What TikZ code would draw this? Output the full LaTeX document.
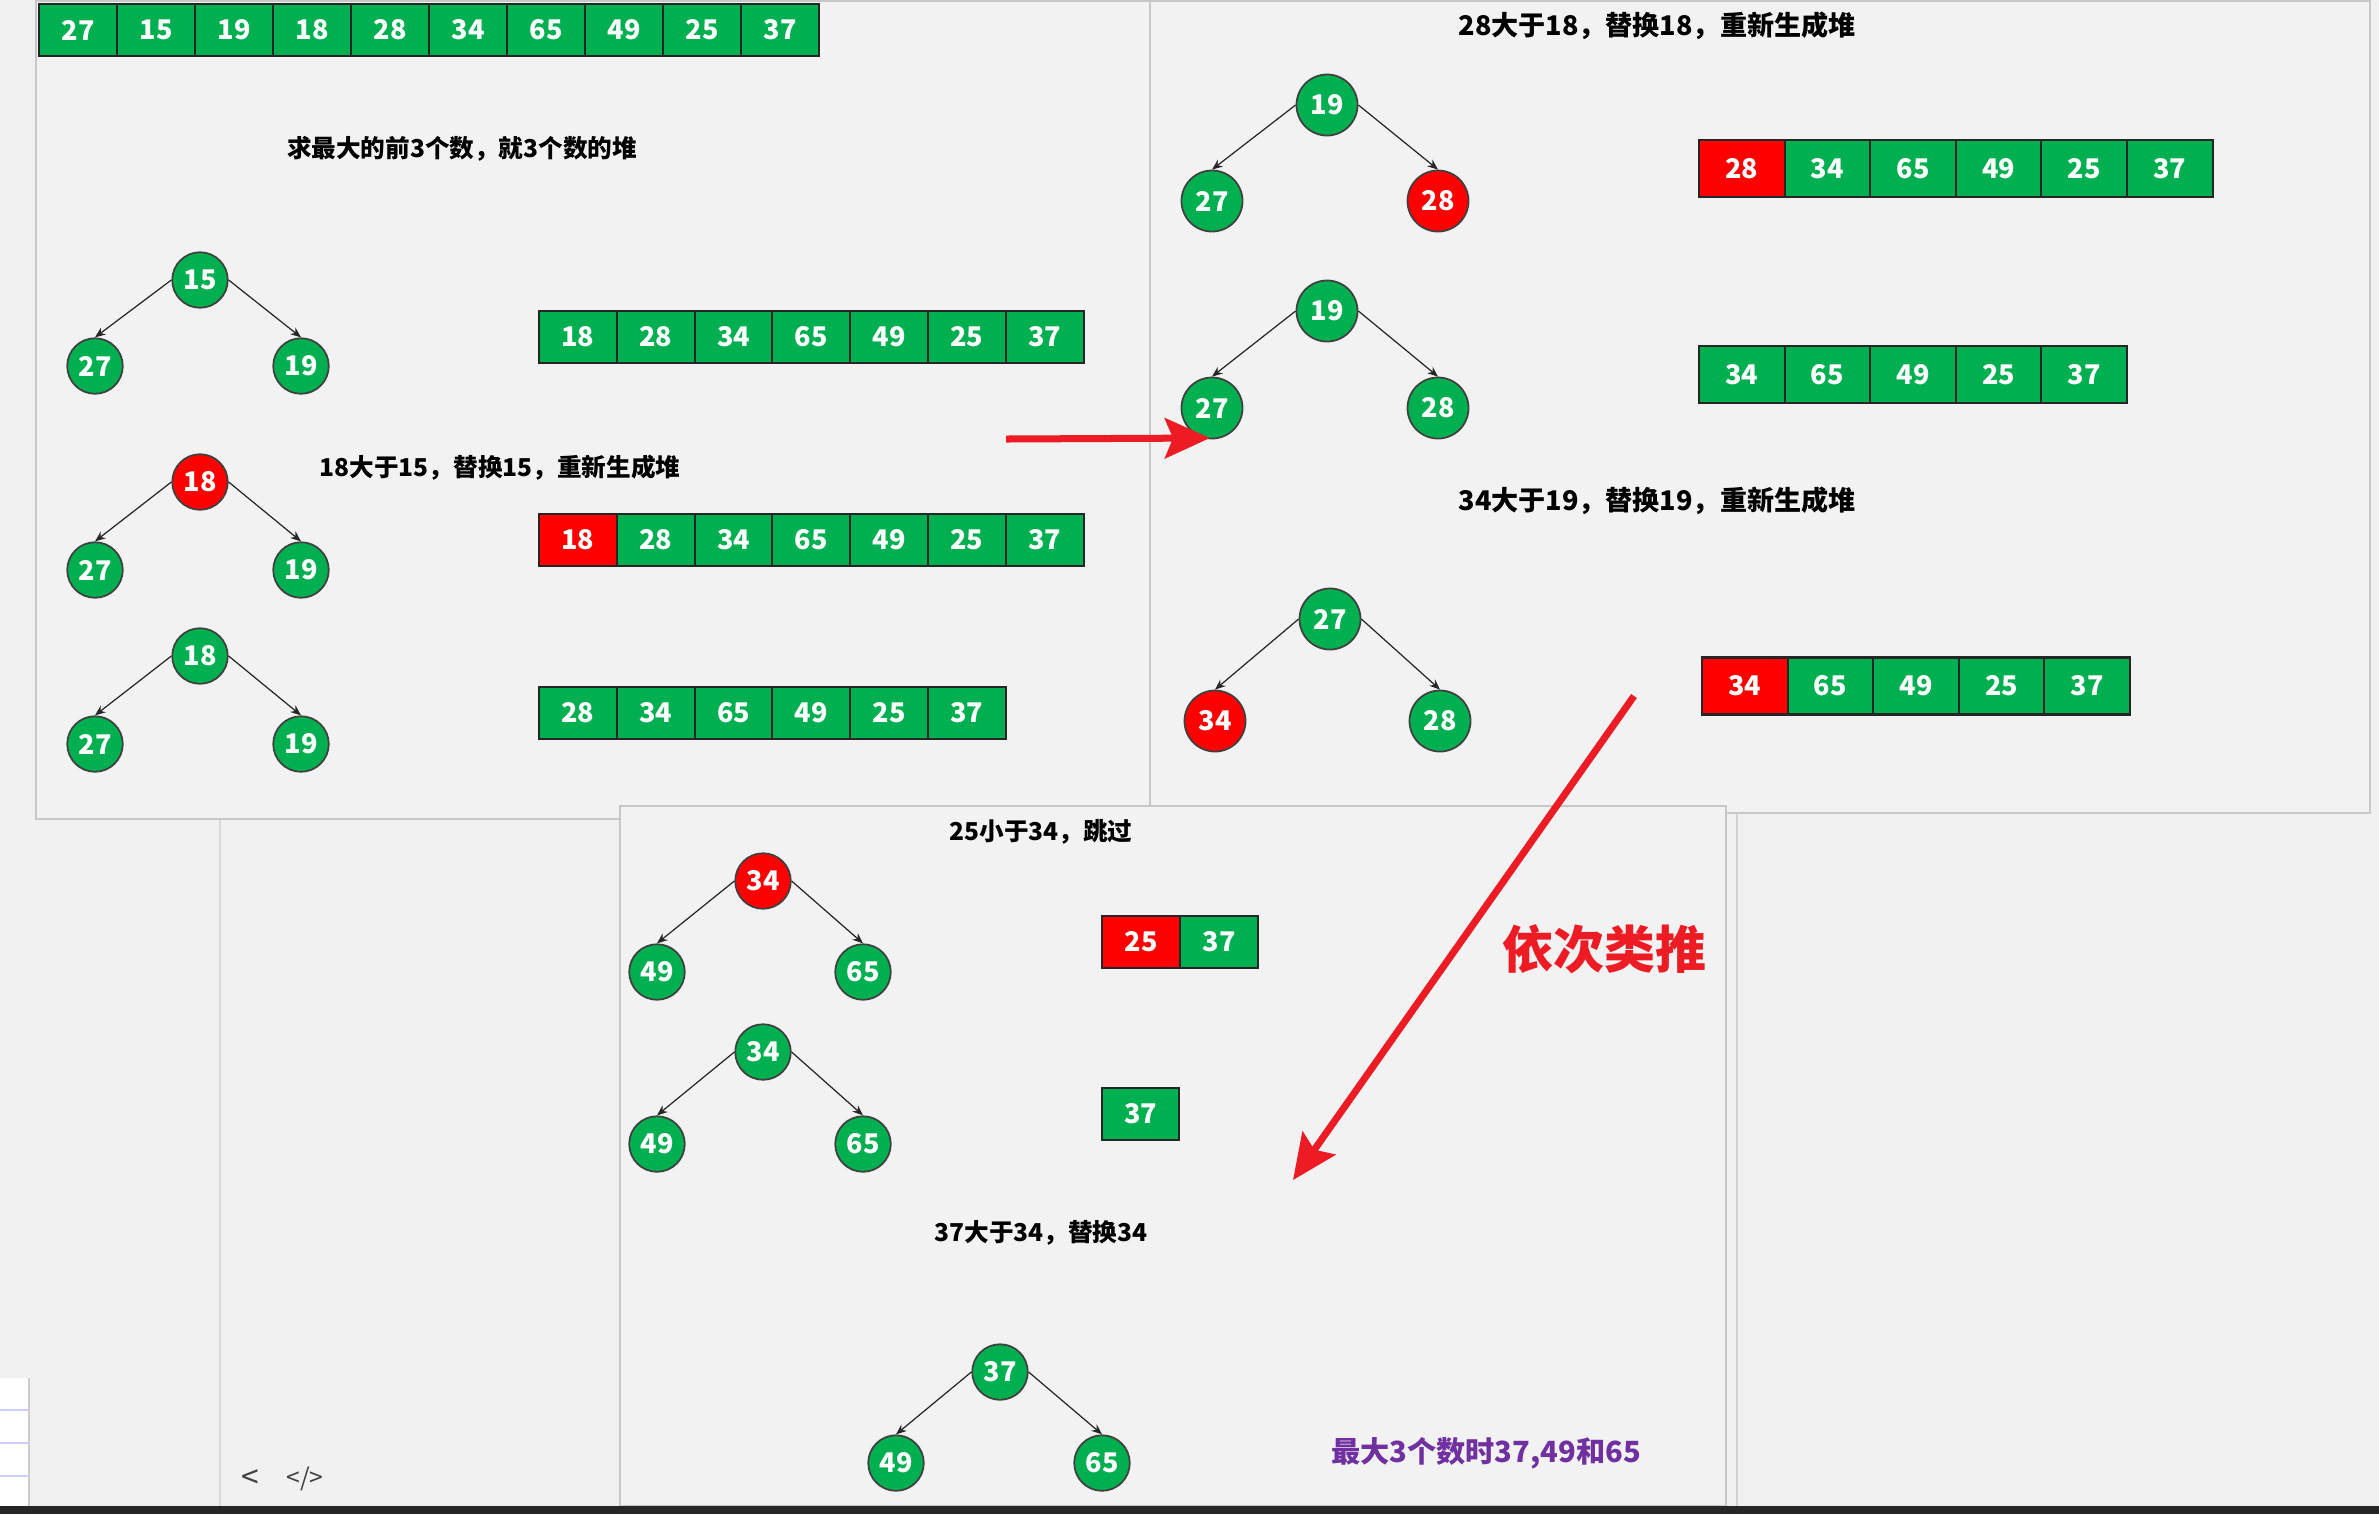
\documentclass[tikz,border=0pt]{standalone}
\usepackage{fontspec}
\setmainfont{Noto Sans CJK SC}
\usetikzlibrary{positioning, arrows.meta}

\definecolor{heapgreen}{HTML}{00B050}
\definecolor{heapred}{HTML}{FF0000}
\definecolor{arrowred}{HTML}{ED1C24}
\definecolor{resultpurple}{HTML}{7030A0}
\definecolor{panelgray}{HTML}{F2F2F2}
\definecolor{screengray}{HTML}{F0F0F0}

\begin{document}
\begin{tikzpicture}[
    x=0.01cm,
    y=-0.01cm,
    cell/.style={
        draw=black!85,
        line width=0.6pt,
        fill=heapgreen,
        text=white,
        minimum width=0.778cm,
        minimum height=0.52cm,
        inner sep=0pt,
        font=\fontsize{7.7}{9}\selectfont\bfseries
    },
    redcell/.style={
        cell,
        fill=heapred
    },
    widecell/.style={
        cell,
        minimum width=0.856cm,
        minimum height=0.57cm
    },
    wideredcell/.style={
        widecell,
        fill=heapred
    },
    vert/.style={
        circle,
        draw=black!75,
        line width=0.5pt,
        fill=heapgreen,
        text=white,
        minimum size=0.555cm,
        inner sep=0pt,
        font=\fontsize{7.7}{9}\selectfont\bfseries
    },
    redvert/.style={
        vert,
        fill=heapred
    },
    bigvert/.style={
        vert,
        minimum size=0.61cm
    },
    bigredvert/.style={
        bigvert,
        fill=heapred
    },
    edge/.style={
        -{Stealth[length=3pt, width=2.4pt]},
        line width=0.35pt,
        black!85
    },
    note/.style={
        font=\fontsize{7}{9}\selectfont\bfseries,
        inner sep=0pt
    },
    bignote/.style={
        font=\fontsize{7.7}{9}\selectfont\bfseries,
        inner sep=0pt
    },
    bigarrow/.style={
        -{Stealth[length=0.45cm, width=0.4cm, inset=0.08cm]},
        line width=0.07cm,
        arrowred
    },
    panel/.style={
        fill=panelgray,
        draw=black!22,
        line width=0.5pt
    }
]

% screen and panels
\useasboundingbox (0,0) rectangle (2379,1514);
\fill[screengray] (0,0) rectangle (2379,1514);
\draw[black!15, line width=0.5pt] (220,819) -- (220,1506);
\fill[white] (0,1378) rectangle (29,1506);
\draw[black!20] (29,1378) -- (29,1506);
\foreach \yy in {1410,1443,1476}
    \draw[blue!20] (0,\yy) -- (29,\yy);
\node[text=black!75, font=\fontsize{9}{10}\selectfont] (back) at (250,1479) {<};
\node[text=black!75, font=\fontsize{7}{10}\selectfont] (code) at (305,1479) {</>};
\draw[panel] (36,1) rectangle (1150,819);
\draw[panel] (1150,1) rectangle (2370,813);
\draw[panel] (620,806) rectangle (1726,1506);
\draw[black!18, line width=0.8pt] (1737,813) -- (1737,1506);
\fill[black!85] (0,1506) rectangle (2379,1514);

% input array
\foreach \v [count=\i] in {27,15,19,18,28,34,65,49,25,37}
    \node[cell] (in\i) at ({78*\i},30) {\v};

\node[note] (goal) at (462,149) {求最大的前3个数，就3个数的堆};

% first heap
\node[vert] (t1) at (200,280) {15};
\node[vert] (t1-l) at (95,366) {27};
\node[vert] (t1-r) at (301,366) {19};
\foreach \v/\s [count=\i] in {18/cell,28/cell,34/cell,65/cell,49/cell,25/cell,37/cell}
    \node[\s] (ra\i) at ({500.1+77.8*\i},337) {\v};

\node[note] (step1) at (500,468) {18大于15，替换15，重新生成堆};

\node[redvert] (t2) at (200,482) {18};
\node[vert] (t2-l) at (95,570) {27};
\node[vert] (t2-r) at (301,570) {19};
\foreach \v/\s [count=\i] in {18/redcell,28/cell,34/cell,65/cell,49/cell,25/cell,37/cell}
    \node[\s] (rb\i) at ({500.1+77.8*\i},540) {\v};

\node[vert] (t3) at (200,656) {18};
\node[vert] (t3-l) at (95,744) {27};
\node[vert] (t3-r) at (301,744) {19};
\foreach \v [count=\i] in {28,34,65,49,25,37}
    \node[cell] (rc\i) at ({500.1+77.8*\i},713) {\v};

% second panel
\node[bignote] (step2) at (1657,26) {28大于18，替换18，重新生成堆};

\node[bigvert] (t4) at (1327,105) {19};
\node[bigvert] (t4-l) at (1212,201) {27};
\node[bigredvert] (t4-r) at (1438,201) {28};
\foreach \v/\s [count=\i] in {28/wideredcell,34/widecell,65/widecell,49/widecell,25/widecell,37/widecell}
    \node[\s] (rd\i) at ({1656.2+85.6*\i},168.5) {\v};

\node[bigvert] (t5) at (1327,311) {19};
\node[bigvert] (t5-l) at (1212,408) {27};
\node[bigvert] (t5-r) at (1438,408) {28};
\foreach \v [count=\i] in {34,65,49,25,37}
    \node[widecell] (re\i) at ({1656.2+85.6*\i},374.5) {\v};

\node[bignote] (step3) at (1657,501) {34大于19，替换19，重新生成堆};

\node[bigvert] (t6) at (1330,619) {27};
\node[bigredvert] (t6-l) at (1215,721) {34};
\node[bigvert] (t6-r) at (1440,721) {28};
\foreach \v/\s [count=\i] in {34/wideredcell,65/widecell,49/widecell,25/widecell,37/widecell}
    \node[\s] (rf\i) at ({1659.2+85.6*\i},686) {\v};

% third panel
\node[note] (step4) at (1041,832) {25小于34，跳过};

\node[redvert] (t7) at (763,881) {34};
\node[vert] (t7-l) at (657,972) {49};
\node[vert] (t7-r) at (863,972) {65};
\node[redcell] (rg1) at (1141,942) {25};
\node[cell] (rg2) at (1219,942) {37};

\node[vert] (t8) at (763,1052) {34};
\node[vert] (t8-l) at (657,1144) {49};
\node[vert] (t8-r) at (863,1144) {65};
\node[cell] (rh1) at (1140.5,1114) {37};

\node[note] (step5) at (1041,1233) {37大于34，替换34};

\node[vert] (t9) at (1000,1372) {37};
\node[vert] (t9-l) at (896,1463) {49};
\node[vert] (t9-r) at (1102,1463) {65};

\node[text=resultpurple, font=\fontsize{8.3}{10}\selectfont\bfseries, inner sep=0pt] (result)
    at (1486,1453) {最大3个数时37,49和65};

\node[text=arrowred, font=\fontsize{14.5}{16}\selectfont\bfseries, inner sep=0pt] (etc)
    at (1604,949) {依次类推};

% heap edges
\foreach \t in {t1,t2,t3,t4,t5,t6,t7,t8,t9} {
    \draw[edge] (\t.west) -- (\t-l.north);
    \draw[edge] (\t.east) -- (\t-r.north);
}

% red arrows
\coordinate (go1) at (1006,439);
\coordinate (to1) at (1210,438);
\coordinate (go2) at (1634,696);
\coordinate (to2) at (1293,1180);
\draw[bigarrow] (go1) -- (to1);
\draw[bigarrow] (go2) -- (to2);

\end{tikzpicture}
\end{document}
